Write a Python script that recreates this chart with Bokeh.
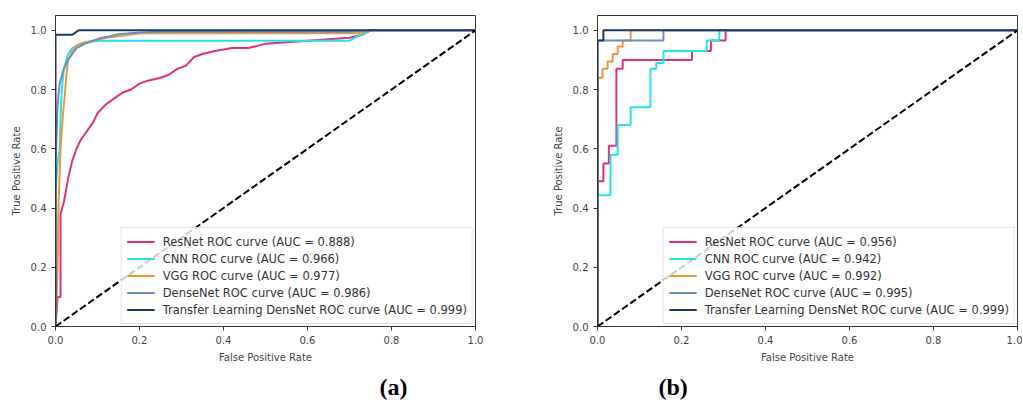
from bokeh.plotting import figure
from bokeh.layouts import row
from bokeh.models import Legend, LegendItem, FixedTicker, PrintfTickFormatter, Range1d, Title
from bokeh.embed import file_html
from bokeh.resources import INLINE

# ---------------- data ----------------
model_names = ["ResNet", "CNN", "VGG", "DenseNet", "Transfer Learning DensNet"]
auc_a = [0.888, 0.966, 0.977, 0.986, 0.999]
auc_b = [0.956, 0.942, 0.992, 0.995, 0.999]
tick_values = [0.0, 0.2, 0.4, 0.6, 0.8, 1.0]
chance_fpr = [0.0, 1.0]
chance_tpr = [0.0, 1.0]

# panel (a)
a_resnet_fpr = [0, 0.005, 0.012, 0.012, 0.02, 0.025, 0.03, 0.035, 0.04, 0.05, 0.06, 0.07, 0.08, 0.09, 0.10,
                0.12, 0.14, 0.16, 0.18, 0.20, 0.22, 0.25, 0.27, 0.29, 0.31, 0.33, 0.35, 0.38, 0.42, 0.46,
                0.50, 0.55, 0.60, 0.65, 0.70, 0.73, 0.75, 1.0]
a_resnet_tpr = [0, 0.1, 0.1, 0.38, 0.42, 0.46, 0.5, 0.53, 0.56, 0.6, 0.63, 0.65, 0.67, 0.69, 0.72,
                0.75, 0.77, 0.79, 0.80, 0.82, 0.83, 0.84, 0.85, 0.87, 0.88, 0.91, 0.92, 0.93, 0.94, 0.94,
                0.955, 0.96, 0.965, 0.97, 0.975, 0.985, 1.0, 1.0]
a_cnn_fpr = [0, 0, 0.005, 0.01, 0.012, 0.015, 0.02, 0.03, 0.04, 0.06, 0.08, 0.10, 0.70, 0.72, 0.75, 1.0]
a_cnn_tpr = [0, 0.45, 0.55, 0.6, 0.7, 0.8, 0.87, 0.92, 0.94, 0.955, 0.96, 0.965, 0.965, 0.98, 1.0, 1.0]
a_vgg_fpr = [0, 0.005, 0.007, 0.012, 0.018, 0.022, 0.026, 0.03, 0.04, 0.05, 0.07, 0.09, 0.12, 0.15, 0.2,
             0.6, 0.72, 0.75, 1.0]
a_vgg_tpr = [0, 0.2, 0.4, 0.6, 0.72, 0.78, 0.85, 0.9, 0.93, 0.95, 0.96, 0.965, 0.975, 0.98, 0.99,
             0.99, 0.99, 1.0, 1.0]
a_dense_fpr = [0, 0, 0.005, 0.01, 0.02, 0.03, 0.04, 0.05, 0.07, 0.09, 0.11, 0.13, 0.15, 0.2, 0.25, 0.7, 0.75, 1.0]
a_dense_tpr = [0, 0.55, 0.75, 0.82, 0.87, 0.9, 0.92, 0.94, 0.955, 0.965, 0.975, 0.98, 0.987, 0.993, 0.995,
               0.995, 1.0, 1.0]
a_tl_fpr = [0, 0, 0.04, 0.055, 1.0]
a_tl_tpr = [0, 0.985, 0.985, 1.0, 1.0]

# panel (b)
b_resnet_fpr = [0, 0, 0.014, 0.014, 0.027, 0.027, 0.045, 0.045, 0.06, 0.06, 0.225, 0.225, 0.27, 0.27,
                0.305, 0.305, 1.0]
b_resnet_tpr = [0, 0.49, 0.49, 0.55, 0.55, 0.61, 0.61, 0.87, 0.87, 0.90, 0.90, 0.93, 0.93, 0.966,
                0.966, 1.0, 1.0]
b_cnn_fpr = [0, 0, 0.031, 0.031, 0.048, 0.048, 0.079, 0.079, 0.126, 0.126, 0.14, 0.14, 0.157, 0.157,
             0.26, 0.26, 0.29, 0.29, 1.0]
b_cnn_tpr = [0, 0.443, 0.443, 0.58, 0.58, 0.68, 0.68, 0.74, 0.74, 0.87, 0.87, 0.89, 0.89, 0.93,
             0.93, 0.966, 0.966, 1.0, 1.0]
b_vgg_fpr = [0, 0, 0.012, 0.012, 0.024, 0.024, 0.036, 0.036, 0.048, 0.048, 0.06, 0.06, 0.079, 0.079, 1.0]
b_vgg_tpr = [0, 0.84, 0.84, 0.87, 0.87, 0.895, 0.895, 0.92, 0.92, 0.945, 0.945, 0.966, 0.966, 1.0, 1.0]
b_dense_fpr = [0, 0, 0.157, 0.157, 1.0]
b_dense_tpr = [0, 0.966, 0.966, 1.0, 1.0]
b_tl_fpr = [0, 0, 0.014, 0.014, 1.0]
b_tl_tpr = [0, 0.966, 0.966, 1.0, 1.0]

# ---------------- styles ----------------
colors = ["#e0307e", "#22e2ee", "#f0963a", "#6a8fc0", "#1c3a66"]
FONT = "DejaVu Sans"


def make_panel(curves, aucs, caption, width, left, right, cap_offset):
    p = figure(width=width, height=406, output_backend="svg", toolbar_location=None,
               x_range=Range1d(0, 1), y_range=Range1d(0, 1.05),
               min_border_left=left, min_border_right=right, min_border_top=15, min_border_bottom=40)
    p.xgrid.visible = False
    p.ygrid.visible = False
    p.outline_line_color = "#333333"
    p.outline_line_width = 1
    p.background_fill_color = "white"
    p.border_fill_color = "white"
    for ax in (p.xaxis[0], p.yaxis[0]):
        ax.ticker = FixedTicker(ticks=tick_values)
        ax.formatter = PrintfTickFormatter(format="%.1f")
        ax.minor_tick_line_color = None
        ax.major_tick_in = 0
        ax.major_tick_out = 4
        ax.major_tick_line_color = "#333333"
        ax.axis_line_color = "#333333"
        ax.major_label_text_font = FONT
        ax.major_label_text_font_size = "10px"
        ax.major_label_text_color = "#444444"
        ax.axis_label_text_font = FONT
        ax.axis_label_text_font_size = "10px"
        ax.axis_label_text_font_style = "normal"
        ax.axis_label_text_color = "#444444"
        ax.major_label_standoff = 5
    p.xaxis.axis_label = "False Positive Rate"
    p.yaxis.axis_label = "True Positive Rate"
    p.xaxis.axis_label_standoff = 5
    p.yaxis.axis_label_standoff = 6

    items = []
    for (fpr, tpr), name, auc, col in zip(curves, model_names, aucs, colors):
        r = p.line(fpr, tpr, line_color=col, line_width=2)
        items.append(LegendItem(label=f"{name} ROC curve (AUC = {auc:.3f})", renderers=[r]))
    p.line(chance_fpr, chance_tpr, line_color="black", line_width=2, line_dash="7 3")

    leg = Legend(items=items, location="bottom_right")
    leg.label_text_font = FONT
    leg.label_text_font_size = "11.5px"
    leg.label_text_color = "#333333"
    leg.label_height = 17
    leg.glyph_height = 17
    leg.glyph_width = 28
    leg.label_standoff = 8
    leg.spacing = 0
    leg.padding = 5
    leg.margin = 2
    leg.border_line_color = "#cccccc"
    leg.background_fill_alpha = 0.8
    p.add_layout(leg)

    t = Title(text=caption, align="left", offset=cap_offset, text_font="Liberation Serif",
              text_font_size="24px", text_font_style="bold", text_color="black", standoff=13)
    p.add_layout(t, "below")
    return p


pa = make_panel([(a_resnet_fpr, a_resnet_tpr), (a_cnn_fpr, a_cnn_tpr), (a_vgg_fpr, a_vgg_tpr),
                 (a_dense_fpr, a_dense_tpr), (a_tl_fpr, a_tl_tpr)], auc_a, "(a)", 520, 55, 45, 324)
pb = make_panel([(b_resnet_fpr, b_resnet_tpr), (b_cnn_fpr, b_cnn_tpr), (b_vgg_fpr, b_vgg_tpr),
                 (b_dense_fpr, b_dense_tpr), (b_tl_fpr, b_tl_tpr)], auc_b, "(b)", 502, 77, 5, 61)

layout = row(pa, pb, spacing=0)
open("out.html", "w").write(file_html(layout, INLINE))
